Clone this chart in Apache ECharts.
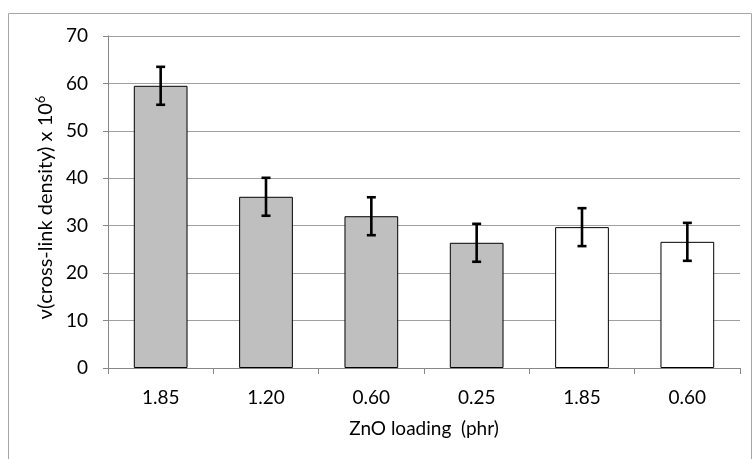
<!DOCTYPE html>
<html><head><meta charset="utf-8">
<script src="https://cdn.jsdelivr.net/npm/echarts@6/dist/echarts.min.js"></script>
<style>html,body{margin:0;padding:0;background:#fff}#c{width:753px;height:459px}</style>
</head><body><div id="c"></div>
<script>
const categories = ['1.85', '1.20', '0.60', '0.25', '1.85', '0.60'];
const values = [59.5, 36.1, 32.0, 26.4, 29.7, 26.6];
const errors = [4.0, 4.0, 4.0, 4.0, 4.0, 4.0];
const fills = ['#bfbfbf', '#bfbfbf', '#bfbfbf', '#bfbfbf', '#ffffff', '#ffffff'];
const yTicks = [0, 10, 20, 30, 40, 50, 60, 70];

const font = 'Lato, "Open Sans", sans-serif';
const chart = echarts.init(document.getElementById('c'));
chart.setOption({
  animation: false,
  graphic: [{type: 'rect', shape: {x: 8.5, y: 13.5, width: 743, height: 470}, style: {fill: 'none', stroke: '#a6a6a6', lineWidth: 1}, z: -1}],
  grid: {left: 108, right: 13, top: 36, bottom: 91},
  xAxis: {
    type: 'category', data: categories,
    name: 'ZnO loading  (phr)', nameLocation: 'middle', nameGap: 51,
    nameTextStyle: {fontFamily: font, fontSize: 19, color: '#000'},
    axisLine: {lineStyle: {color: '#888', width: 1}},
    axisTick: {show: true, length: 6, lineStyle: {color: '#888'}},
    axisLabel: {fontFamily: font, fontSize: 19, color: '#000', margin: 20}
  },
  yAxis: {
    type: 'value', min: yTicks[0], max: yTicks[yTicks.length - 1], interval: 10,
    name: '{a|ν(cross-link density) x 10}{s|6}', nameLocation: 'middle', nameGap: 52, nameRotate: 90,
    nameTextStyle: {padding: [0, 11, 0, 0], rich: {a: {fontFamily: font, fontSize: 20, color: '#000'}, s: {fontFamily: font, fontSize: 13, color: '#000', verticalAlign: 'top', padding: [0, 0, 8, 0]}}},
    axisLine: {show: true, lineStyle: {color: '#888', width: 1}},
    axisTick: {show: true, length: 5, lineStyle: {color: '#888'}},
    splitLine: {lineStyle: {color: '#a0a0a0', width: 1}},
    axisLabel: {fontFamily: font, fontSize: 19, color: '#000', margin: 20}
  },
  series: [{
    type: 'bar', barWidth: '51%',
    data: values.map((v, i) => ({value: v, itemStyle: {color: fills[i], borderColor: '#000', borderWidth: 1}})),
    z: 2
  }, {
    type: 'custom', z: 3,
    data: values.map((v, i) => [i, v - errors[i], v + errors[i]]),
    renderItem: function (params, api) {
      const lo = api.coord([api.value(0), api.value(1)]);
      const hi = api.coord([api.value(0), api.value(2)]);
      const w = 4.5;
      const st = {stroke: '#000', lineWidth: 2.6};
      return {type: 'group', children: [
        {type: 'line', shape: {x1: hi[0], y1: hi[1], x2: lo[0], y2: lo[1]}, style: st},
        {type: 'line', shape: {x1: hi[0] - w, y1: hi[1], x2: hi[0] + w, y2: hi[1]}, style: st},
        {type: 'line', shape: {x1: lo[0] - w, y1: lo[1], x2: lo[0] + w, y2: lo[1]}, style: st}
      ]};
    }
  }]
});
</script></body></html>
